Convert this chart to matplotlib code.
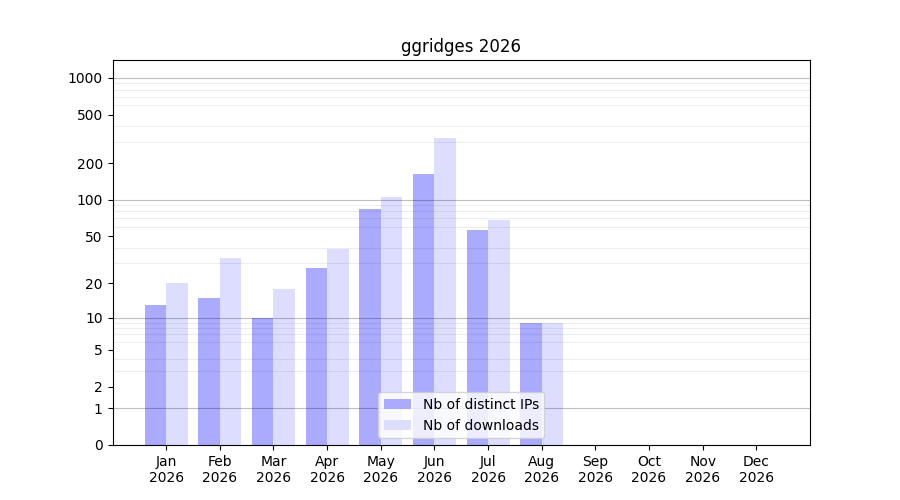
import matplotlib
matplotlib.use("Agg")
import matplotlib.pyplot as plt
import numpy as np

# monthly stats
months = ["Jan", "Feb", "Mar", "Apr", "May", "Jun",
          "Jul", "Aug", "Sep", "Oct", "Nov", "Dec"]
year = 2026
distinct_ips = [13, 15, 10, 27, 84, 164, 56, 9, 0, 0, 0, 0]
downloads = [20, 33, 18, 39, 106, 323, 68, 9, 0, 0, 0, 0]
ytick_values = [0, 1, 2, 5, 10, 20, 50, 100, 200, 500, 1000]
decades = [1, 10, 100, 1000]


def forward(v):
    return np.log10(1 + np.asarray(v, dtype=float))


def inverse(v):
    return 10 ** np.asarray(v, dtype=float) - 1


fig, ax = plt.subplots(figsize=(9, 5), dpi=100)
x = np.arange(len(months))
width = 0.4

ax.bar(x - width / 2, distinct_ips, width, color="#aaaaff", label="Nb of distinct IPs")
ax.bar(x + width / 2, downloads, width, color="#ddddff", label="Nb of downloads")

ax.set_yscale("function", functions=(forward, inverse))

ax.set_yticks(ytick_values)
ax.set_yticklabels([str(v) for v in ytick_values])
minor = [m * 10 ** k for k in range(0, 3) for m in range(2, 10)]
ax.set_yticks(minor, minor=True)
ax.tick_params(axis="y", which="minor", length=0)
ax.grid(True, which="minor", axis="y", color="black", alpha=0.07, linewidth=0.8)
for d in decades:
    ax.axhline(d, color="black", alpha=0.25, linewidth=0.8, zorder=1.5)

ax.set_ylim(0, 1400)
ax.set_xlim(-1, 12)

ax.set_xticks(x)
ax.set_xticklabels([f"{m}\n{year}" for m in months])
ax.set_title(f"ggridges {year}")
ax.legend(loc="lower center")

fig.savefig("out.png", dpi=100)
